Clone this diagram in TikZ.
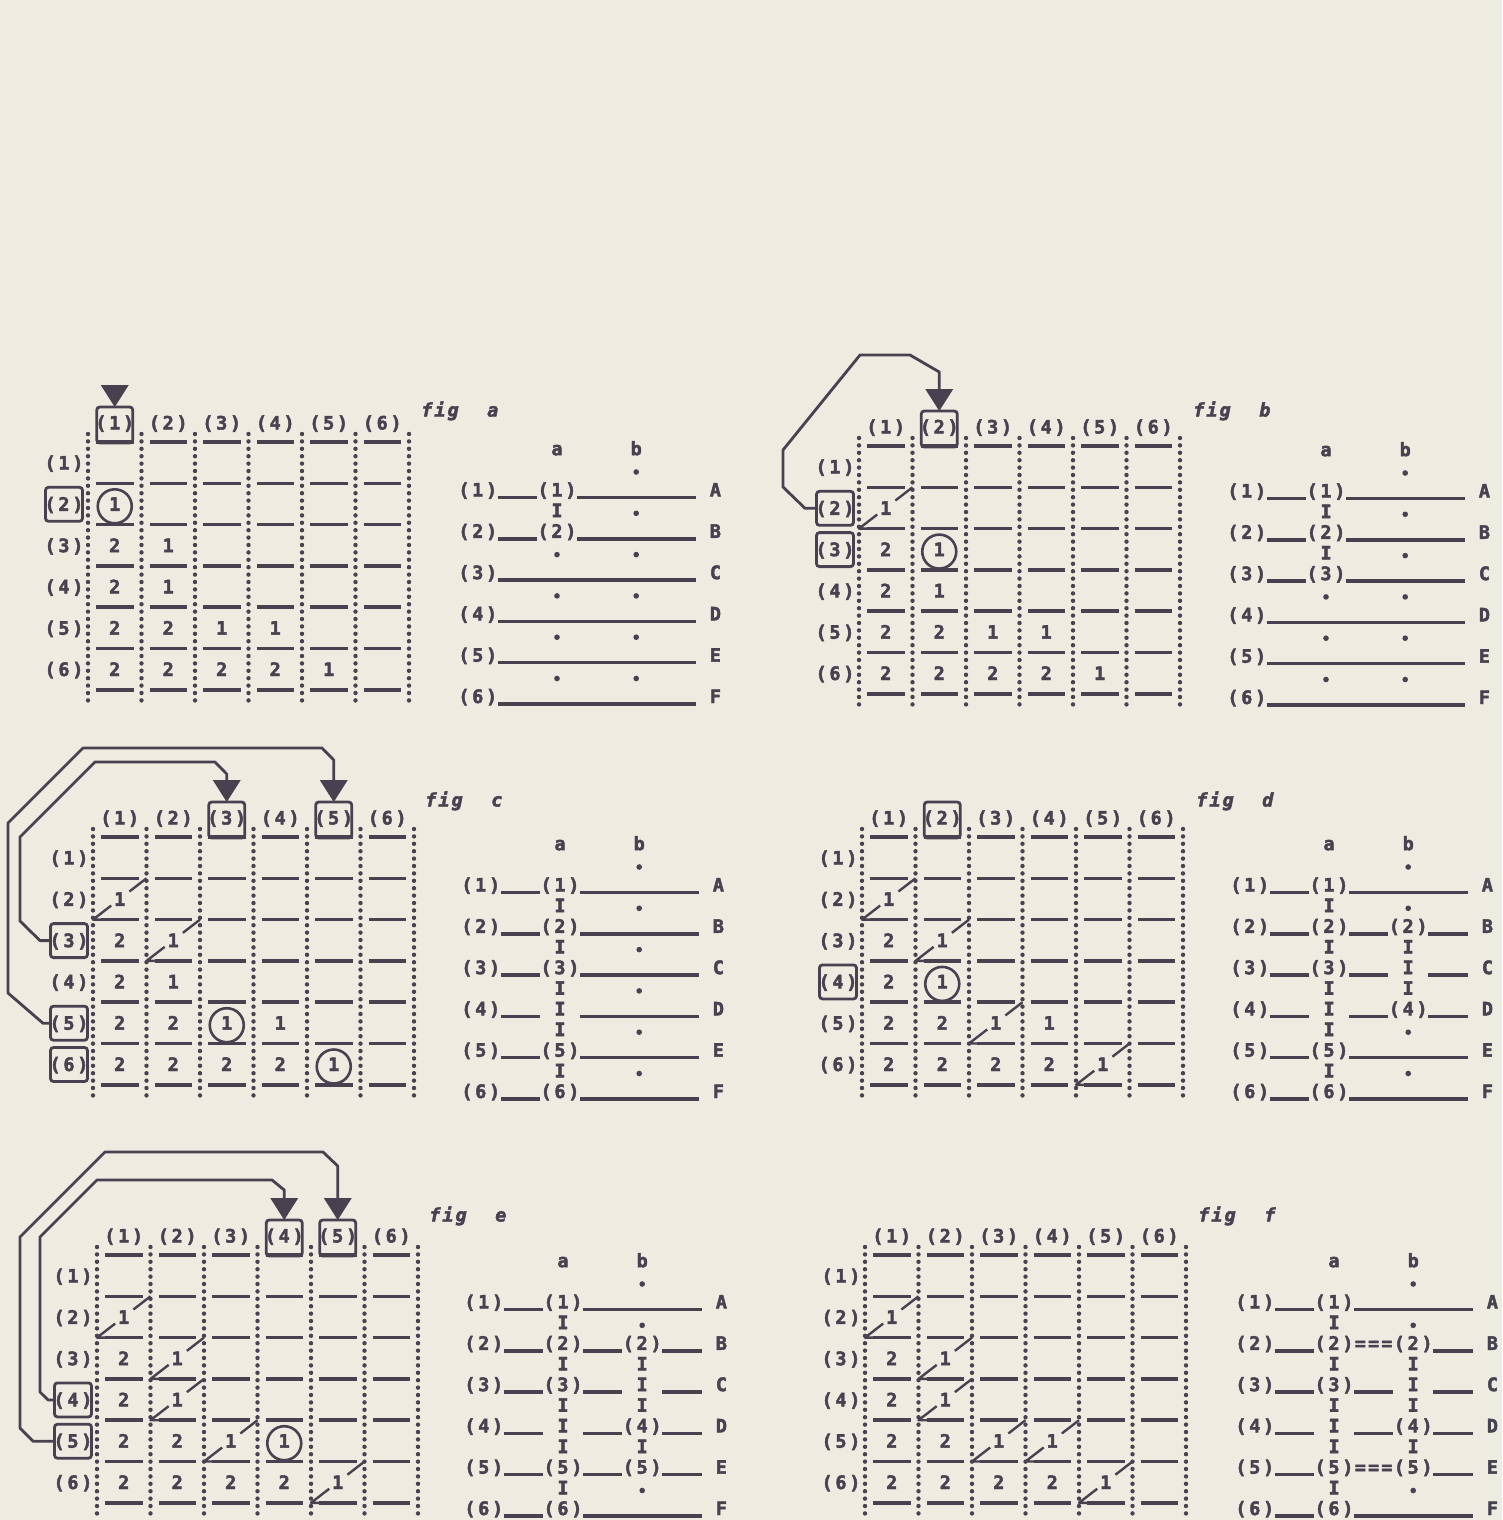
\documentclass[tikz,border=0pt]{standalone}
\usepackage{fontspec}
\newfontfamily\zmono{DejaVu Sans Mono}[FakeBold=2.4]
\usetikzlibrary{calc}
\definecolor{ink}{RGB}{72,65,80}
\definecolor{paper}{RGB}{238,235,225}
\newcommand\Zmc[1]{\makebox[13.2pt]{#1}}
\newcommand\Zpd[1]{\makebox[14.5pt]{(}\makebox[13.2pt]{#1}\makebox[14.5pt]{)}}
\tikzset{
  txt/.style={font=\zmono\bfseries\fontsize{18.5}{18.5}\selectfont, text=ink, inner sep=0pt, anchor=base},
  ftxt/.style={font=\zmono\bfseries\itshape\fontsize{18.5}{18.5}\selectfont, text=ink, inner sep=0pt, anchor=base west},
  dashln/.style={draw=ink, line width=3.6pt},
  dotln/.style={draw=ink, line width=4.4pt, line cap=round, dash pattern=on 0pt off 7.4pt},
  ulin/.style={draw=ink, line width=3.4pt},
  lbox/.style={draw=ink, line width=2.8pt, rounded corners=3pt, inner sep=0pt},
  conn/.style={draw=ink, line width=2.8pt, line join=round},
  circ/.style={draw=ink, line width=2.6pt, circle, minimum size=34pt, inner sep=0pt},
  diag/.style={draw=ink, line width=2.4pt, line join=round},
}
% ---- grid helpers
\newcommand\Zcx[1]{\GX+(#1-0.5)*53.5}
\newcommand\Zry[1]{\GH+40+(#1-1)*41.3}
\newcommand\Zgrid{%
  \foreach \j in {1,...,6}{%
    \node[txt] (\PP-ch\j) at ({\Zcx{\j}},{\GH+6.5}) {\Zpd{\j}};
    \node[txt] (\PP-rl\j) at ({\GX-24},{\Zry{\j}+6.5}) {\Zpd{\j}};
  }%
  \foreach \j in {0,...,6}{%
    \draw[dotln] ({\GX+\j*53.5},{\GH+11}) -- ({\GX+\j*53.5},{\GH+278});
  }%
  \foreach \k in {0,...,6}{%
    \foreach \j in {1,...,6}{%
      \draw[dashln] ({\GX+(\j-1)*53.5+8},{\GH+19+\k*41.3}) -- ({\GX+\j*53.5-8},{\GH+19+\k*41.3});
    }%
  }%
}
\newcommand\Zcell[3]{\node[txt] (\PP-v#1#2) at ({\Zcx{#2}},{\Zry{#1}+6.5}) {#3};}
\newcommand\Zccell[2]{\Zcell{#1}{#2}{1}\node[circ] (\PP-o#1#2) at ({\Zcx{#2}},{\Zry{#1}+2}) {};}
\newcommand\Zdcell[2]{\Zcell{#1}{#2}{1}%
  \coordinate (\PP-tr#1#2) at ({\GX+#2*53.5},{\GH+19+(#1-1)*41.3});
  \coordinate (\PP-bl#1#2) at ({\GX+(#2-1)*53.5},{\GH+19+#1*41.3});
  \draw[diag] (\PP-tr#1#2) -- ($(\PP-tr#1#2)!0.32!(\PP-bl#1#2)$);
  \draw[diag] ($(\PP-tr#1#2)!0.66!(\PP-bl#1#2)$) -- (\PP-bl#1#2) -- ($(\PP-bl#1#2)+(10,0)$);}
\newcommand\Zcbox[1]{\node[lbox, minimum width=36pt, minimum height=36pt] (\PP-bc#1) at ({\Zcx{#1}},{\GH+2}) {};}
\newcommand\Zrbox[1]{\node[lbox, minimum width=37pt, minimum height=34pt] (\PP-br#1) at ({\GX-24},{\Zry{#1}}) {};}
\newcommand\Ztri[1]{\fill[ink] ({\Zcx{#1}-14},{\GH-38}) -- ({\Zcx{#1}+14},{\GH-38}) -- ({\Zcx{#1}},{\GH-16}) -- cycle;
  \coordinate (\PP-t#1) at ({\Zcx{#1}},{\GH-37});}
% ---- line-diagram helpers
\newcommand\Zchx[1]{\LX+(#1+0.5)*13.2}
\newcommand\Zrwy[1]{\LY+(#1-1)*41.3}
\newcommand\Zlab[3]{\node[txt] (\PP-p#1-#2) at ({\Zchx{#2+1}},{\Zrwy{#1}+6.5}) {\Zpd{#3}};}
\newcommand\Zus[3]{\draw[ulin] ({\LX+#2*13.2},{\Zrwy{#1}+7.5}) -- ({\LX+(#3+1)*13.2},{\Zrwy{#1}+7.5});}
\newcommand\ZfI[2]{\node[txt] (\PP-i#1-#2) at ({\Zchx{#2}},{\Zrwy{#1}+6.5}) {I};}
\newcommand\ZhI[2]{\node[txt] (\PP-h#1-#2) at ({\Zchx{#2}},{\Zrwy{#1}-20.65+6.5}) {I};}
\newcommand\Zhd[2]{\fill[ink] ({\Zchx{#2}},{\Zrwy{#1}-18}) circle (2.8);}
\newcommand\Zltr[2]{\node[txt] (\PP-L#1) at ({\Zchx{19}},{\Zrwy{#1}+6.5}) {#2};}
\newcommand\Zeqs[1]{\node[txt] (\PP-e#1) at ({\Zchx{10}},{\Zrwy{#1}+6.5}) {\Zmc{=}\Zmc{=}\Zmc{=}};}
\newcommand\ZrAA[3]{\Zlab{#1}{0}{#2}\Zus{#1}{3}{5}\Zlab{#1}{6}{#2}\Zus{#1}{9}{17}\Zltr{#1}{#3}}
\newcommand\ZrN[3]{\Zlab{#1}{0}{#2}\Zus{#1}{3}{17}\Zltr{#1}{#3}}
\newcommand\ZrIa[3]{\Zlab{#1}{0}{#2}\Zus{#1}{3}{5}\ZfI{#1}{7}\Zus{#1}{9}{17}\Zltr{#1}{#3}}
\newcommand\ZrAAA[3]{\Zlab{#1}{0}{#2}\Zus{#1}{3}{5}\Zlab{#1}{6}{#2}\Zus{#1}{9}{11}\Zlab{#1}{12}{#2}\Zus{#1}{15}{17}\Zltr{#1}{#3}}
\newcommand\ZrAEA[3]{\Zlab{#1}{0}{#2}\Zus{#1}{3}{5}\Zlab{#1}{6}{#2}\Zeqs{#1}\Zlab{#1}{12}{#2}\Zus{#1}{15}{17}\Zltr{#1}{#3}}
\newcommand\ZrAAI[3]{\Zlab{#1}{0}{#2}\Zus{#1}{3}{5}\Zlab{#1}{6}{#2}\Zus{#1}{9}{11}\ZfI{#1}{13}\Zus{#1}{15}{17}\Zltr{#1}{#3}}
\newcommand\ZrAIA[3]{\Zlab{#1}{0}{#2}\Zus{#1}{3}{5}\ZfI{#1}{7}\Zus{#1}{9}{11}\Zlab{#1}{12}{#2}\Zus{#1}{15}{17}\Zltr{#1}{#3}}
\newcommand\Zhdr{\node[txt] (\PP-ha) at ({\Zchx{7}},{\Zrwy{0}+6.5}) {a};
  \node[txt] (\PP-hb) at ({\Zchx{13}},{\Zrwy{0}+6.5}) {b};}
\newcommand\Zfig[1]{\node[ftxt] (\PP-fig) at (\FX,\FY+6.5) {\Zmc{f}\Zmc{i}\Zmc{g}\Zmc{ }\Zmc{ }\Zmc{#1}};}

\begin{document}
\begin{tikzpicture}[x=1pt,y=-1pt]
\fill[paper] (0,0) rectangle (1502,1520);
\useasboundingbox (0,0) rectangle (1502,1520);

% ================= fig a
\def\PP{a}\def\GX{88}\def\GH{423}\def\LX{458}\def\LY{490}\def\FX{420}\def\FY{410}
\Zgrid
\Zccell{2}{1}
\Zcell{3}{1}{2}\Zcell{3}{2}{1}
\Zcell{4}{1}{2}\Zcell{4}{2}{1}
\Zcell{5}{1}{2}\Zcell{5}{2}{2}\Zcell{5}{3}{1}\Zcell{5}{4}{1}
\Zcell{6}{1}{2}\Zcell{6}{2}{2}\Zcell{6}{3}{2}\Zcell{6}{4}{2}\Zcell{6}{5}{1}
\Zcbox{1}\Ztri{1}\Zrbox{2}
\Zfig{a}
\Zhdr
\Zhd{1}{13}
\ZrAA{1}{1}{A}
\ZhI{2}{7}\Zhd{2}{13}
\ZrAA{2}{2}{B}
\Zhd{3}{7}\Zhd{3}{13}
\ZrN{3}{3}{C}
\Zhd{4}{7}\Zhd{4}{13}
\ZrN{4}{4}{D}
\Zhd{5}{7}\Zhd{5}{13}
\ZrN{5}{5}{E}
\Zhd{6}{7}\Zhd{6}{13}
\ZrN{6}{6}{F}

% ================= fig b
\def\PP{b}\def\GX{859}\def\GH{427}\def\LX{1227}\def\LY{491}\def\FX{1192}\def\FY{410}
\Zgrid
\Zdcell{2}{1}
\Zcell{3}{1}{2}\Zccell{3}{2}
\Zcell{4}{1}{2}\Zcell{4}{2}{1}
\Zcell{5}{1}{2}\Zcell{5}{2}{2}\Zcell{5}{3}{1}\Zcell{5}{4}{1}
\Zcell{6}{1}{2}\Zcell{6}{2}{2}\Zcell{6}{3}{2}\Zcell{6}{4}{2}\Zcell{6}{5}{1}
\Zcbox{2}\Ztri{2}\Zrbox{2}\Zrbox{3}
\draw[conn] (b-br2.west) -- (805,508.3) -- (783,487) -- (783,450) -- (860,355) -- (910,355) -- (939.25,372) -- (b-t2);
\Zfig{b}
\Zhdr
\Zhd{1}{13}
\ZrAA{1}{1}{A}
\ZhI{2}{7}\Zhd{2}{13}
\ZrAA{2}{2}{B}
\ZhI{3}{7}\Zhd{3}{13}
\ZrAA{3}{3}{C}
\Zhd{4}{7}\Zhd{4}{13}
\ZrN{4}{4}{D}
\Zhd{5}{7}\Zhd{5}{13}
\ZrN{5}{5}{E}
\Zhd{6}{7}\Zhd{6}{13}
\ZrN{6}{6}{F}

% ================= fig c
\def\PP{c}\def\GX{93}\def\GH{818}\def\LX{461}\def\LY{885}\def\FX{424}\def\FY{800}
\Zgrid
\Zdcell{2}{1}
\Zcell{3}{1}{2}\Zdcell{3}{2}
\Zcell{4}{1}{2}\Zcell{4}{2}{1}
\Zcell{5}{1}{2}\Zcell{5}{2}{2}\Zccell{5}{3}\Zcell{5}{4}{1}
\Zcell{6}{1}{2}\Zcell{6}{2}{2}\Zcell{6}{3}{2}\Zcell{6}{4}{2}\Zccell{6}{5}
\Zcbox{3}\Ztri{3}\Zcbox{5}\Ztri{5}\Zrbox{3}\Zrbox{5}\Zrbox{6}
\draw[conn] (c-br5.west) -- (43,1023.2) -- (8,993) -- (8,823) -- (83,748) -- (322,748) -- (333.75,760) -- (c-t5);
\draw[conn] (c-br3.west) -- (40,940.6) -- (20,921) -- (20,837) -- (95,762) -- (215,762) -- (226.75,774) -- (c-t3);
\Zfig{c}
\Zhdr
\Zhd{1}{13}
\ZrAA{1}{1}{A}
\ZhI{2}{7}\Zhd{2}{13}
\ZrAA{2}{2}{B}
\ZhI{3}{7}\Zhd{3}{13}
\ZrAA{3}{3}{C}
\ZhI{4}{7}\Zhd{4}{13}
\ZrIa{4}{4}{D}
\ZhI{5}{7}\Zhd{5}{13}
\ZrAA{5}{5}{E}
\ZhI{6}{7}\Zhd{6}{13}
\ZrAA{6}{6}{F}

% ================= fig d
\def\PP{d}\def\GX{862}\def\GH{818}\def\LX{1230}\def\LY{885}\def\FX{1195}\def\FY{800}
\Zgrid
\Zdcell{2}{1}
\Zcell{3}{1}{2}\Zdcell{3}{2}
\Zcell{4}{1}{2}\Zccell{4}{2}
\Zcell{5}{1}{2}\Zcell{5}{2}{2}\Zdcell{5}{3}\Zcell{5}{4}{1}
\Zcell{6}{1}{2}\Zcell{6}{2}{2}\Zcell{6}{3}{2}\Zcell{6}{4}{2}\Zdcell{6}{5}
\Zcbox{2}\Zrbox{4}
\Zfig{d}
\Zhdr
\Zhd{1}{13}
\ZrAA{1}{1}{A}
\ZhI{2}{7}\Zhd{2}{13}
\ZrAAA{2}{2}{B}
\ZhI{3}{7}\ZhI{3}{13}
\ZrAAI{3}{3}{C}
\ZhI{4}{7}\ZhI{4}{13}
\ZrAIA{4}{4}{D}
\ZhI{5}{7}\Zhd{5}{13}
\ZrAA{5}{5}{E}
\ZhI{6}{7}\Zhd{6}{13}
\ZrAA{6}{6}{F}

% ================= fig e
\def\PP{e}\def\GX{97}\def\GH{1236}\def\LX{464}\def\LY{1302}\def\FX{428}\def\FY{1215}
\Zgrid
\Zdcell{2}{1}
\Zcell{3}{1}{2}\Zdcell{3}{2}
\Zcell{4}{1}{2}\Zdcell{4}{2}
\Zcell{5}{1}{2}\Zcell{5}{2}{2}\Zdcell{5}{3}\Zccell{5}{4}
\Zcell{6}{1}{2}\Zcell{6}{2}{2}\Zcell{6}{3}{2}\Zcell{6}{4}{2}\Zdcell{6}{5}
\Zcbox{4}\Ztri{4}\Zcbox{5}\Ztri{5}\Zrbox{4}\Zrbox{5}
\draw[conn] (e-br5.west) -- (33,1441.2) -- (20,1428) -- (20,1237) -- (105,1152) -- (323,1152) -- (337.75,1166) -- (e-t5);
\draw[conn] (e-br4.west) -- (48,1399.9) -- (40,1392) -- (40,1237) -- (97,1180) -- (272,1180) -- (284.25,1190) -- (e-t4);
\Zfig{e}
\Zhdr
\Zhd{1}{13}
\ZrAA{1}{1}{A}
\ZhI{2}{7}\Zhd{2}{13}
\ZrAAA{2}{2}{B}
\ZhI{3}{7}\ZhI{3}{13}
\ZrAAI{3}{3}{C}
\ZhI{4}{7}\ZhI{4}{13}
\ZrAIA{4}{4}{D}
\ZhI{5}{7}\ZhI{5}{13}
\ZrAAA{5}{5}{E}
\ZhI{6}{7}\Zhd{6}{13}
\ZrAA{6}{6}{F}

% ================= fig f
\def\PP{f}\def\GX{865}\def\GH{1236}\def\LX{1235}\def\LY{1302}\def\FX{1197}\def\FY{1215}
\Zgrid
\Zdcell{2}{1}
\Zcell{3}{1}{2}\Zdcell{3}{2}
\Zcell{4}{1}{2}\Zdcell{4}{2}
\Zcell{5}{1}{2}\Zcell{5}{2}{2}\Zdcell{5}{3}\Zdcell{5}{4}
\Zcell{6}{1}{2}\Zcell{6}{2}{2}\Zcell{6}{3}{2}\Zcell{6}{4}{2}\Zdcell{6}{5}
\Zfig{f}
\Zhdr
\Zhd{1}{13}
\ZrAA{1}{1}{A}
\ZhI{2}{7}\Zhd{2}{13}
\ZrAEA{2}{2}{B}
\ZhI{3}{7}\ZhI{3}{13}
\ZrAAI{3}{3}{C}
\ZhI{4}{7}\ZhI{4}{13}
\ZrAIA{4}{4}{D}
\ZhI{5}{7}\ZhI{5}{13}
\ZrAEA{5}{5}{E}
\ZhI{6}{7}\Zhd{6}{13}
\ZrAA{6}{6}{F}
\end{tikzpicture}
\end{document}
